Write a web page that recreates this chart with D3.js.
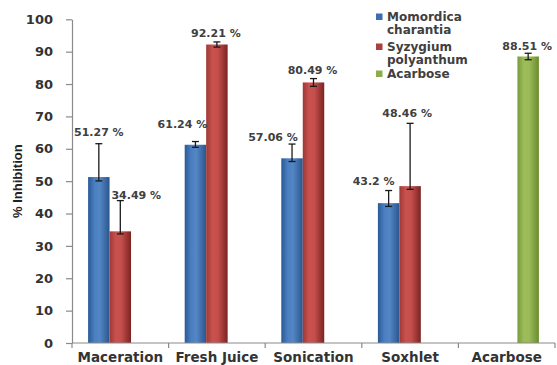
<!DOCTYPE html>
<html>
<head>
<meta charset="utf-8">
<script src="https://cdn.jsdelivr.net/npm/d3@7"></script>
<style>
  html, body { margin: 0; padding: 0; background: #fff; }
  svg { display: block; }
</style>
</head>
<body>
<svg id="chart" width="557" height="365"></svg>
<script>
// Extraction methods on the x axis
const categories = ["Maceration", "Fresh Juice", "Sonication", "Soxhlet", "Acarbose"];
const seriesNames = ["Momordica charantia", "Syzygium polyanthum", "Acarbose"];

// % inhibition per series (null = no bar)
const momordica = [51.27, 61.24, 57.06, 43.2, null];
const syzygium  = [34.49, 92.21, 80.49, 48.46, null];
const acarbose  = [null, null, null, null, 88.51];

// error bar extents above / below each value
const momordicaErrUp   = [10.3, 1.0, 4.4, 3.9, null];
const momordicaErrDown = [1.2, 0.8, 1.0, 1.0, null];
const syzygiumErrUp    = [9.5, 0.8, 1.2, 19.4, null];
const syzygiumErrDown  = [0.8, 0.8, 1.2, 1.0, null];
const acarboseErrUp    = [null, null, null, null, 1.0];
const acarboseErrDown  = [null, null, null, null, 1.0];

const yTicks = [0, 10, 20, 30, 40, 50, 60, 70, 80, 90, 100];

// layout
const svg = d3.select("#chart");
const plotLeft = 72, plotRight = 555, plotTop = 19.3, plotBottom = 343;

const x0 = d3.scaleBand().domain(categories).range([plotLeft, plotRight]).paddingInner(0).paddingOuter(0);
// three bars per group plus a 150% gap width, centred in the band
const barW = x0.bandwidth() / 4.5;
const x1 = d3.scaleBand().domain(seriesNames)
  .range([x0.bandwidth() / 2 - 1.5 * barW, x0.bandwidth() / 2 + 1.5 * barW])
  .paddingInner(0).paddingOuter(0);
const y = d3.scaleLinear().domain([0, 100]).range([plotBottom, plotTop]);

// gradients that give the bars their rounded shading
const defs = svg.append("defs");
const gradStops = {
  "Momordica charantia": [["0%", "#2a5a97"], ["30%", "#4b7fc0"], ["55%", "#5286c4"], ["100%", "#2b558e"]],
  "Syzygium polyanthum": [["0%", "#9e3936"], ["30%", "#c9524f"], ["55%", "#c44e4b"], ["100%", "#7a2422"]],
  "Acarbose": [["0%", "#789a38"], ["30%", "#9cbd5a"], ["55%", "#9bbb59"], ["100%", "#6a8b2e"]]
};
const gradId = d => "g" + seriesNames.indexOf(d);
seriesNames.forEach(s => {
  const g = defs.append("linearGradient").attr("id", gradId(s))
    .attr("x1", "0%").attr("x2", "100%").attr("y1", "0%").attr("y2", "0%");
  gradStops[s].forEach(([o, c]) => g.append("stop").attr("offset", o).attr("stop-color", c));
});
const legendColors = { "Momordica charantia": "#3d6eb0", "Syzygium polyanthum": "#a8403d", "Acarbose": "#8cad4c" };

// flat list of bars built from the series arrays
const seriesData = [
  { name: seriesNames[0], values: momordica, up: momordicaErrUp, down: momordicaErrDown },
  { name: seriesNames[1], values: syzygium, up: syzygiumErrUp, down: syzygiumErrDown },
  { name: seriesNames[2], values: acarbose, up: acarboseErrUp, down: acarboseErrDown }
];
const bars = [];
seriesData.forEach(s => {
  s.values.forEach((v, i) => {
    if (v !== null) bars.push({ series: s.name, cat: categories[i], value: v, up: s.up[i], down: s.down[i] });
  });
});

// hand-placed label nudges (dx, dy) keyed by category|series
const labelNudge = {
  "Maceration|Momordica charantia": [0, -3],
  "Maceration|Syzygium polyanthum": [16, 3],
  "Fresh Juice|Momordica charantia": [-13, -9],
  "Fresh Juice|Syzygium polyanthum": [-1, 0],
  "Sonication|Momordica charantia": [-19, 2],
  "Sonication|Syzygium polyanthum": [-1, 0],
  "Soxhlet|Momordica charantia": [-15, -1],
  "Soxhlet|Syzygium polyanthum": [-3, -1],
  "Acarbose|Acarbose": [-1, 2]
};

const bx = d => x0(d.cat) + x1(d.series);

// bars
svg.append("g").selectAll("rect").data(bars).join("rect")
  .attr("x", bx)
  .attr("y", d => y(d.value))
  .attr("width", x1.bandwidth())
  .attr("height", d => y(0) - y(d.value))
  .attr("fill", d => `url(#${gradId(d.series)})`);

// error bars
const eb = svg.append("g").attr("stroke", "#1a1a1a").attr("stroke-width", 1.3);
bars.forEach(d => {
  const cx = bx(d) + x1.bandwidth() / 2;
  const yt = y(d.value + d.up), yb = y(d.value - d.down);
  eb.append("line").attr("x1", cx).attr("x2", cx).attr("y1", yt).attr("y2", yb);
  eb.append("line").attr("x1", cx - 3.5).attr("x2", cx + 3.5).attr("y1", yt).attr("y2", yt);
  eb.append("line").attr("x1", cx - 3.5).attr("x2", cx + 3.5).attr("y1", yb).attr("y2", yb);
});

// value labels
svg.append("g").selectAll("text").data(bars).join("text")
  .attr("x", d => bx(d) + x1.bandwidth() / 2 + labelNudge[d.cat + "|" + d.series][0])
  .attr("y", d => y(d.value + d.up) - 5 + labelNudge[d.cat + "|" + d.series][1])
  .attr("text-anchor", "middle")
  .attr("font-family", "DejaVu Sans, Verdana, sans-serif")
  .attr("font-weight", "bold")
  .attr("font-size", "11px")
  .attr("fill", "#404040")
  .text(d => d.value + " %");

// y axis
const yAxis = d3.axisLeft(y).tickValues(yTicks).tickSize(6).tickPadding(13).tickSizeOuter(0);
const gy = svg.append("g").attr("transform", `translate(${plotLeft},0)`).call(yAxis);
gy.select(".domain").attr("stroke", "#8a8a8a").attr("stroke-width", 1.2);
gy.selectAll(".tick line").attr("stroke", "#8a8a8a").attr("stroke-width", 1.2);
gy.selectAll(".tick text")
  .attr("font-family", "DejaVu Sans, Verdana, sans-serif")
  .attr("font-weight", "bold").attr("font-size", "13px").attr("fill", "#333");

// x axis: baseline with ticks at the category boundaries
const gx = svg.append("g");
gx.append("line").attr("x1", plotLeft).attr("x2", plotRight).attr("y1", plotBottom).attr("y2", plotBottom)
  .attr("stroke", "#8a8a8a").attr("stroke-width", 1.2);
const boundaries = categories.map(c => x0(c)).concat([x0(categories[categories.length - 1]) + x0.bandwidth()]);
gx.selectAll("line.tk").data(boundaries).join("line").attr("class", "tk")
  .attr("x1", d => d).attr("x2", d => d).attr("y1", plotBottom).attr("y2", plotBottom + 5)
  .attr("stroke", "#8a8a8a").attr("stroke-width", 1.2);
gx.selectAll("text").data(categories).join("text")
  .attr("x", d => x0(d) + x0.bandwidth() / 2)
  .attr("y", 362)
  .attr("text-anchor", "middle")
  .attr("font-family", "DejaVu Sans, Verdana, sans-serif")
  .attr("font-weight", "bold").attr("font-size", "13.5px").attr("fill", "#333")
  .text(d => d);

// y axis title
svg.append("text")
  .attr("transform", `translate(22,${(plotTop + plotBottom) / 2}) rotate(-90)`)
  .attr("text-anchor", "middle")
  .attr("font-family", "Liberation Sans Narrow, Arial Narrow, Liberation Sans, sans-serif")
  .attr("font-weight", "bold").attr("font-size", "13px").attr("fill", "#222")
  .text("% Inhibition");

// legend
const legendLines = [["Momordica", "charantia"], ["Syzygium", "polyanthum"], ["Acarbose"]];
const legendY = [17, 47, 74];
const lg = svg.append("g");
seriesNames.forEach((s, i) => {
  lg.append("rect").attr("x", 376).attr("y", legendY[i] - 3.5).attr("width", 6.5).attr("height", 6.5)
    .attr("fill", legendColors[s]);
  const t = lg.append("text")
    .attr("font-family", "DejaVu Sans, Verdana, sans-serif")
    .attr("font-weight", "bold").attr("font-size", "12px").attr("fill", "#404040");
  legendLines[i].forEach((ln, j) => {
    t.append("tspan").attr("x", 387).attr("y", legendY[i] + 4 + j * 13).text(ln);
  });
});
</script>
</body>
</html>
